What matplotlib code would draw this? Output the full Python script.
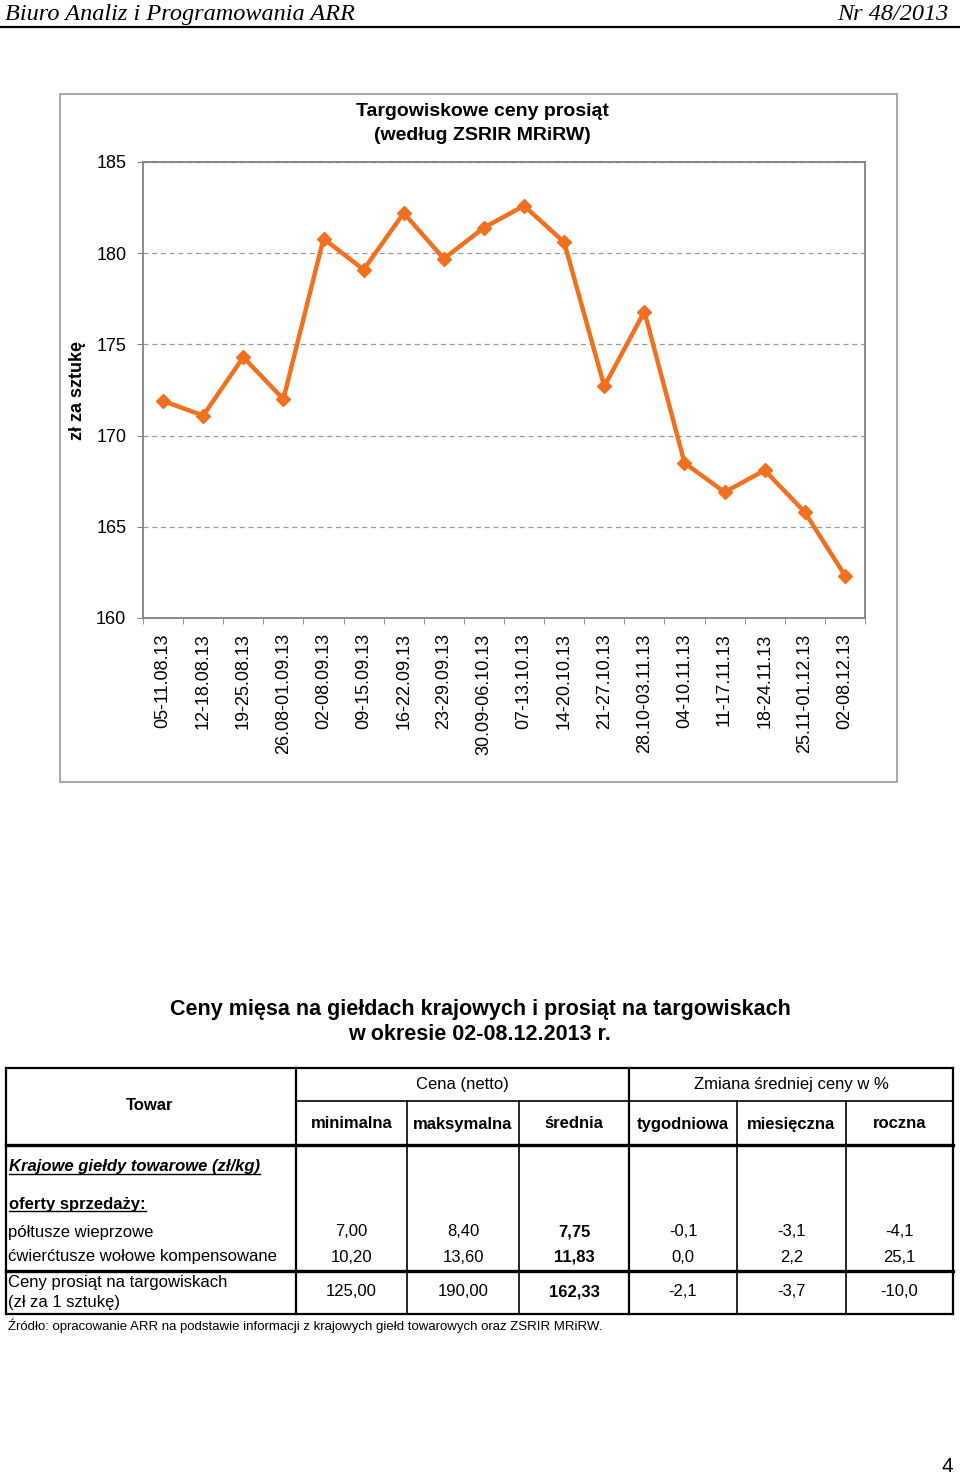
import numpy as np
import matplotlib.pyplot as plt
from matplotlib.lines import Line2D
from matplotlib.patches import Rectangle

plt.rcParams['font.family'] = ['Liberation Sans', 'DejaVu Sans']

# dane wykresu - ceny prosiat (zl za sztuke)
tygodnie = ["05-11.08.13", "12-18.08.13", "19-25.08.13", "26.08-01.09.13",
            "02-08.09.13", "09-15.09.13", "16-22.09.13", "23-29.09.13",
            "30.09-06.10.13", "07-13.10.13", "14-20.10.13", "21-27.10.13",
            "28.10-03.11.13", "04-10.11.13", "11-17.11.13", "18-24.11.13",
            "25.11-01.12.13", "02-08.12.13"]
ceny = [171.9, 171.1, 174.3, 172.0, 180.8, 179.1, 182.2, 179.7, 181.4,
        182.6, 180.6, 172.7, 176.8, 168.5, 166.9, 168.1, 165.8, 162.33]
yticki = [160, 165, 170, 175, 180, 185]

# dane tabeli
kolumny_cena = ["minimalna", "maksymalna", "średnia"]
kolumny_zmiana = ["tygodniowa", "miesięczna", "roczna"]
towary = ["półtusze wieprzowe", "ćwierćtusze wołowe kompensowane",
          "Ceny prosiąt na targowiskach\n(zł za 1 sztukę)"]
minimalna = ["7,00", "10,20", "125,00"]
maksymalna = ["8,40", "13,60", "190,00"]
srednia = ["7,75", "11,83", "162,33"]
tygodniowa = ["-0,1", "0,0", "-2,1"]
miesieczna = ["-3,1", "2,2", "-3,7"]
roczna = ["-4,1", "25,1", "-10,0"]

W, H = 960, 1476
fig = plt.figure(figsize=(W / 100, H / 100), dpi=100)

def fx(x):
    return x / W

def fy(y):
    return 1 - y / H

def linia(x0, y0, x1, y1, lw=1.5, color='black'):
    fig.add_artist(Line2D([fx(x0), fx(x1)], [fy(y0), fy(y1)], lw=lw,
                          color=color, transform=fig.transFigure))

# naglowek strony
fig.text(fx(5), fy(20), "Biuro Analiz i Programowania ARR", family='Liberation Serif',
         style='italic', fontsize=17.5, va='baseline', ha='left')
fig.text(fx(948), fy(20), "Nr 48/2013", family='Liberation Serif',
         style='italic', fontsize=17.5, va='baseline', ha='right')
linia(0, 27, 960, 27, lw=1.6)

# ramka wykresu
fig.add_artist(Rectangle((fx(60), fy(782)), fx(897 - 60), (782 - 94) / H,
                         transform=fig.transFigure, fill=False,
                         edgecolor='#a0a0a0', lw=1.3))

ax = fig.add_axes([fx(143), fy(618), fx(865 - 143), (618 - 162) / H])
x = np.arange(len(ceny))
ax.plot(x, ceny, color='#F07020', lw=3.2, marker='D', markersize=7.5, zorder=3)
ax.set_xlim(-0.5, len(ceny) - 0.5)
ax.set_ylim(160, 185)
ax.set_yticks(yticki)
ax.yaxis.grid(True, color='#999999', ls=(0, (4, 3)), lw=0.9)
ax.set_axisbelow(True)
ax.set_xticks(x)
ax.set_xticklabels(tygodnie, rotation=90, va='top', ha='center', fontsize=13)
ax.set_xticks(np.arange(len(ceny) + 1) - 0.5, minor=True)
ax.tick_params(axis='x', which='major', length=0, pad=11)
ax.tick_params(axis='x', which='minor', length=4, color='#808080')
ax.tick_params(axis='y', length=4, color='#808080', pad=8, labelsize=13)
for s in ax.spines.values():
    s.set_color('#808080')
    s.set_linewidth(1.3)
ax.set_ylabel("zł za sztukę", fontsize=13, fontweight='bold')
ax.yaxis.set_label_coords((86 - 143) / (865 - 143), 0.5)

fig.text(fx(482), fy(111), "Targowiskowe ceny prosiąt", fontsize=14,
         fontweight='bold', ha='center', va='center')
fig.text(fx(482), fy(136), "(według ZSRIR MRiRW)", fontsize=14,
         fontweight='bold', ha='center', va='center')

# tytul tabeli
fig.text(fx(480), fy(1009), "Ceny mięsa na giełdach krajowych i prosiąt na targowiskach",
         fontsize=15.5, fontweight='bold', ha='center', va='center')
fig.text(fx(480), fy(1035), "w okresie 02-08.12.2013 r.",
         fontsize=15.5, fontweight='bold', ha='center', va='center')

# siatka tabeli
kx = [6, 296, 407, 519, 629, 737, 846, 953]
linia(6, 1068, 953, 1068, lw=1.6)
linia(296, 1101, 953, 1101, lw=1.2)
linia(6, 1145, 953, 1145, lw=2.4)
linia(6, 1271, 953, 1271, lw=2.4)
linia(6, 1314, 953, 1314, lw=1.6)
linia(6, 1068, 6, 1314, lw=1.6)
linia(953, 1068, 953, 1314, lw=1.6)
linia(296, 1068, 296, 1314, lw=1.6)
linia(629, 1068, 629, 1314, lw=1.6)
for xx in [407, 519, 737, 846]:
    linia(xx, 1101, xx, 1314, lw=1.2)

fs = 12
fig.text(fx(462), fy(1084), "Cena (netto)", fontsize=fs, ha='center', va='center')
fig.text(fx(791), fy(1084), "Zmiana średniej ceny w %", fontsize=fs, ha='center', va='center')
fig.text(fx(150), fy(1105), "Towar", fontsize=fs, fontweight='bold', ha='center', va='center')
for i, nazwa in enumerate(kolumny_cena + kolumny_zmiana):
    cx = (kx[i + 1] + kx[i + 2]) / 2
    fig.text(fx(cx), fy(1124), nazwa, fontsize=fs, fontweight='bold',
             ha='center', va='center')

t1 = fig.text(fx(9), fy(1167), "Krajowe giełdy towarowe (zł/kg)", fontsize=fs,
              fontweight='bold', style='italic', ha='left', va='center')
t2 = fig.text(fx(9), fy(1204), "oferty sprzedaży:", fontsize=fs,
              fontweight='bold', ha='left', va='center')

wiersze_y = [1232, 1257, 1292]
kolumny_wart = [minimalna, maksymalna, srednia, tygodniowa, miesieczna, roczna]
for r, towar in enumerate(towary):
    if r == 2:
        fig.text(fx(8), fy(1282), towar.split("\n")[0], fontsize=fs, ha='left', va='center')
        fig.text(fx(8), fy(1302), towar.split("\n")[1], fontsize=fs, ha='left', va='center')
    else:
        fig.text(fx(8), fy(wiersze_y[r]), towar, fontsize=fs, ha='left', va='center')
    for c, kol in enumerate(kolumny_wart):
        cx = (kx[c + 1] + kx[c + 2]) / 2
        fig.text(fx(cx), fy(wiersze_y[r]), kol[r], fontsize=fs,
                 fontweight='bold' if c == 2 else 'normal', ha='center', va='center')

fig.text(fx(8), fy(1326), "Źródło: opracowanie ARR na podstawie informacji z krajowych giełd "
         "towarowych oraz ZSRIR MRiRW.", fontsize=9.5, ha='left', va='center')

fig.text(fx(953), fy(1466), "4", fontsize=15, ha='right', va='center')

# podkreslenia
fig.canvas.draw()
r = fig.canvas.get_renderer()
for t in [t1, t2]:
    bb = t.get_window_extent(r).transformed(fig.transFigure.inverted())
    fig.add_artist(Line2D([bb.x0, bb.x1], [bb.y0 + 0.0005, bb.y0 + 0.0005], lw=1,
                          color='black', transform=fig.transFigure))

fig.savefig("out.png", dpi=100)
